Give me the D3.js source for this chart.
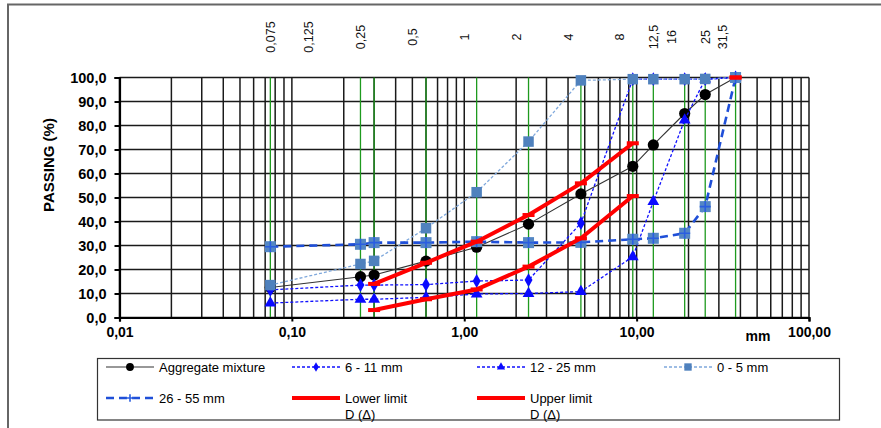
<!DOCTYPE html>
<html><head><meta charset="utf-8">
<script src="https://cdn.jsdelivr.net/npm/d3@7"></script>
<style>
html,body{margin:0;padding:0;background:#fff;}
svg{display:block;font-family:"Liberation Sans",Arial,sans-serif;}
</style></head>
<body>
<svg id="chart" width="881" height="428"></svg>
<script>
// ---- data ----
const sieves = [0.075, 0.25, 0.3, 0.6, 1.18, 2.36, 4.75, 9.5, 12.5, 19, 25, 37.5];
const aggregateMixture = [12.5, 17.0, 17.7, 23.5, 29.3, 38.9, 51.5, 63.0, 71.9, 85.0, 92.9, 100];
const frac6_11  = [11.5, 13.5, 13.5, 13.7, 15.2, 15.6, 39.3, 99.3, 99.3, 99.3, 99.3, 100];
const frac12_25 = [6.0, 7.6, 7.6, 8.4, 9.8, 10.0, 10.8, 25.3, 48.3, 82.3, 99.3, 100];
const frac0_5   = [13.5, 22.3, 23.6, 37.2, 52.2, 73.3, 98.8, 99.3, 99.3, 99.3, 99.4, 100];
const frac26_55 = [29.5, 30.5, 31.2, 31.2, 31.6, 31.2, 31.3, 32.6, 33.0, 35.1, 46.2, 100];
const lowerLimit = [null, null, 3.1, 7.6, 11.7, 21.2, 33.0, 50.6, null, null, null, 100];
const upperLimit = [null, null, 14.0, 22.8, 31.6, 42.7, 55.9, 72.6, null, null, null, 100];
const yTicks = [0, 10, 20, 30, 40, 50, 60, 70, 80, 90, 100];
const xMajorTicks = [0.01, 0.1, 1, 10, 100];
const xTickLabels = ["0,01", "0,10", "1,00", "10,00", "100,00"];
const topLabelValues = [0.075, 0.125, 0.25, 0.5, 1, 2, 4, 8, 12.5, 16, 25, 31.5];
const topLabels = ["0,075", "0,125", "0,25", "0,5", "1", "2", "4", "8", "12,5", "16", "25", "31,5"];
const seriesNames = ["Aggregate mixture", "6 - 11 mm", "12 - 25 mm", "0 - 5 mm", "26 - 55 mm", "Lower limit\nD (\u0394)", "Upper limit\nD (\u0394)"];

// ---- setup ----
const svg = d3.select("#chart");
const x = d3.scaleLog().domain([0.01, 100]).range([119.5, 809]);
const y = d3.scaleLinear().domain([0, 100]).range([317.5, 77.5]);

// outer frame (top & left)
svg.append("path").attr("d", "M8,428V4.5H881").attr("fill", "none").attr("stroke", "#666").attr("stroke-width", 2);

// grid
const minorX = [];
[0.01, 0.1, 1, 10].forEach(d => { for (let k = 1; k <= 9; k++) minorX.push(d * k); });
minorX.push(100);
const grid = svg.append("g");
grid.selectAll("line.v").data(minorX).join("line")
  .attr("x1", d => x(d)).attr("x2", d => x(d)).attr("y1", y(100)).attr("y2", y(0))
  .attr("stroke", "#1a1a1a").attr("stroke-width", 1.5);
grid.selectAll("line.h").data(yTicks).join("line")
  .attr("x1", x(0.01)).attr("x2", x(100)).attr("y1", d => y(d)).attr("y2", d => y(d))
  .attr("stroke", "#1a1a1a").attr("stroke-width", 1.5);

// sieve lines (green)
svg.append("g").selectAll("line").data(sieves).join("line")
  .attr("x1", d => x(d)).attr("x2", d => x(d)).attr("y1", y(100)).attr("y2", y(0))
  .attr("stroke", "#1e9a1e").attr("stroke-width", 1.3);

// axes
const yAxis = svg.append("g").attr("transform", `translate(${x(0.01)},0)`)
  .call(d3.axisLeft(y).tickValues(yTicks).tickSize(5).tickPadding(8)
    .tickFormat(d => d.toFixed(1).replace(".", ",")));
yAxis.select(".domain").attr("stroke", "#000").attr("stroke-width", 2.2);
yAxis.selectAll(".tick line").attr("stroke", "#000").attr("stroke-width", 2);
yAxis.selectAll(".tick text").attr("font-size", 14.5).attr("font-weight", "bold")
  .attr("font-family", "Liberation Sans, Arial, sans-serif").attr("fill", "#000");

const xAxis = svg.append("g").attr("transform", `translate(0,${y(0)})`)
  .call(d3.axisBottom(x).tickValues(xMajorTicks).tickSize(4).tickPadding(6)
    .tickFormat((d, i) => xTickLabels[i]));
xAxis.select(".domain").attr("stroke", "#000").attr("stroke-width", 2.2);
xAxis.selectAll(".tick line").attr("stroke", "#000").attr("stroke-width", 2);
xAxis.selectAll(".tick text").attr("font-size", 14).attr("font-weight", "bold")
  .attr("font-family", "Liberation Sans, Arial, sans-serif").attr("fill", "#000");

svg.append("text").attr("x", 758).attr("y", 341).attr("text-anchor", "middle")
  .attr("font-size", 14).attr("font-weight", "bold").text("mm");

svg.append("text").attr("transform", "translate(54,165) rotate(-90)").attr("text-anchor", "middle")
  .attr("font-size", 15).attr("font-weight", "bold").text("PASSING (%)");

// top sieve labels
svg.append("g").selectAll("text").data(topLabelValues).join("text")
  .attr("transform", d => `translate(${x(d) + 4.5},37) rotate(-90)`)
  .attr("text-anchor", "middle").attr("font-size", 12.5).attr("fill", "#111")
  .text((d, i) => topLabels[i]);

// ---- series ----
function pts(vals) { return sieves.map((s, i) => [s, vals[i]]).filter(p => p[1] != null); }
const lineDef = d3.line().defined(d => d[1] != null).x(d => x(d[0])).y(d => y(d[1]));

const styles = [
  {vals: aggregateMixture, color: "#333", width: 1.1, dash: null, marker: "circle"},
  {vals: frac6_11, color: "#1010ff", width: 1.3, dash: "3,2", marker: "diamond"},
  {vals: frac12_25, color: "#1010ff", width: 1.3, dash: "3,2", marker: "triangle"},
  {vals: frac0_5, color: "#7fa8dc", width: 1.3, dash: "3,2", marker: "square"},
  {vals: frac26_55, color: "#1f4fd8", width: 2.6, dash: "8,5", marker: "squareplus"},
  {vals: lowerLimit, color: "#ff0000", width: 4, dash: null, marker: "dash"},
  {vals: upperLimit, color: "#ff0000", width: 4, dash: null, marker: "dash"}
];

function drawMarker(g, type, cx, cy, scale) {
  scale = scale || 1;
  if (type === "circle") {
    g.append("circle").attr("cx", cx).attr("cy", cy).attr("r", 5.6 * scale).attr("fill", "#000");
  } else if (type === "diamond") {
    g.append("path").attr("transform", `translate(${cx},${cy})`)
      .attr("d", d3.symbol(d3.symbolDiamond, 55 * scale * scale)()).attr("fill", "#0a0aff");
  } else if (type === "triangle") {
    g.append("path").attr("transform", `translate(${cx},${cy})`)
      .attr("d", d3.symbol(d3.symbolTriangle, 60 * scale * scale)()).attr("fill", "#0a0aff");
  } else if (type === "square") {
    const s = 10.5 * scale;
    g.append("rect").attr("x", cx - s / 2).attr("y", cy - s / 2).attr("width", s).attr("height", s).attr("fill", "#4f81bd");
  } else if (type === "squareplus") {
    const s = 11 * scale;
    if (scale >= 1) g.append("rect").attr("x", cx - s / 2).attr("y", cy - s / 2).attr("width", s).attr("height", s).attr("fill", "#5487c4");
    g.append("path").attr("d", `M${cx - s / 2},${cy}H${cx + s / 2}M${cx},${cy - s / 2}V${cy + s / 2}`)
      .attr("stroke", "#2a5ee0").attr("stroke-width", 1.6);
  } else if (type === "dash") {
    g.append("rect").attr("x", cx - 6).attr("y", cy - 2).attr("width", 12).attr("height", 4).attr("fill", "#ff0000");
  }
}

styles.forEach(st => {
  const g = svg.append("g");
  const data = sieves.map((s, i) => [s, st.vals[i]]);
  g.append("path").datum(data).attr("d", lineDef).attr("fill", "none")
    .attr("stroke", st.color).attr("stroke-width", st.width)
    .attr("stroke-dasharray", st.dash).attr("stroke-linejoin", "round");
  pts(st.vals).forEach(p => drawMarker(g, st.marker, x(p[0]), y(p[1])));
});

// ---- legend ----
const leg = svg.append("g");
leg.append("rect").attr("x", 97.5).attr("y", 358.5).attr("width", 742).attr("height", 61.5)
  .attr("fill", "#fff").attr("stroke", "#333").attr("stroke-width", 1.2);
const colX = [106, 292, 477, 664];
const rowY = [367, 398];
styles.forEach((st, i) => {
  const cx = colX[i % 4], cy = rowY[Math.floor(i / 4)];
  const g = leg.append("g");
  g.append("line").attr("x1", cx).attr("x2", cx + 48).attr("y1", cy).attr("y2", cy)
    .attr("stroke", st.color).attr("stroke-width", st.width).attr("stroke-dasharray", st.dash);
  if (st.marker !== "dash") drawMarker(g, st.marker, cx + 24, cy, 0.7);
  const lines = seriesNames[i].split("\n");
  lines.forEach((t, j) => {
    g.append("text").attr("x", cx + 53).attr("y", cy + 4.5 + j * 16).attr("font-size", 13)
      .attr("fill", "#000").text(t);
  });
});
</script>
</body></html>
